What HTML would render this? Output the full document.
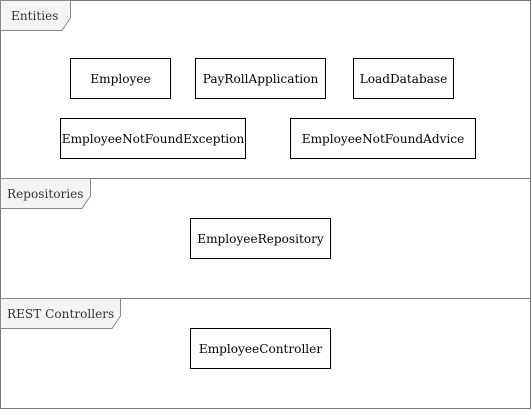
<html><body style="margin:0;background:#fff">
<svg width="531" height="409" xmlns="http://www.w3.org/2000/svg" font-family="DejaVu Serif, Liberation Serif, serif" font-size="12.1">
<rect x="0.5" y="0.5" width="530" height="408" fill="#fff" stroke="#777"/>
<line x1="0" y1="178.5" x2="531" y2="178.5" stroke="#777"/>
<line x1="0" y1="298.5" x2="531" y2="298.5" stroke="#777"/>
<g fill="#f4f4f4" stroke="#888">
<path d="M0.5 0.5 H70.5 V18 L62 30.5 H0.5 Z"/>
<path d="M0.5 178.5 H90.5 V196 L82 208.5 H0.5 Z"/>
<path d="M0.5 298.5 H120.5 V316 L112 328.5 H0.5 Z"/>
</g>
<g fill="#333">
<text x="11" y="20">Entities</text>
<text x="7" y="198">Repositories</text>
<text x="7" y="318">REST Controllers</text>
</g>
<g fill="#fff" stroke="#000">
<rect x="70.5" y="58.5" width="100" height="40"/>
<rect x="195.5" y="58.5" width="130" height="40"/>
<rect x="353.5" y="58.5" width="100" height="40"/>
<rect x="60.5" y="118.5" width="185" height="40"/>
<rect x="290.5" y="118.5" width="185" height="40"/>
<rect x="190.5" y="218.5" width="140" height="40"/>
<rect x="190.5" y="328.5" width="140" height="40"/>
</g>
<g fill="#000" text-anchor="middle">
<text x="120.5" y="83">Employee</text>
<text x="260.5" y="83">PayRollApplication</text>
<text x="403.5" y="83">LoadDatabase</text>
<text x="153" y="143">EmployeeNotFoundException</text>
<text x="383" y="143">EmployeeNotFoundAdvice</text>
<text x="260.5" y="243">EmployeeRepository</text>
<text x="260.5" y="353">EmployeeController</text>
</g>
</svg>
</body></html>
